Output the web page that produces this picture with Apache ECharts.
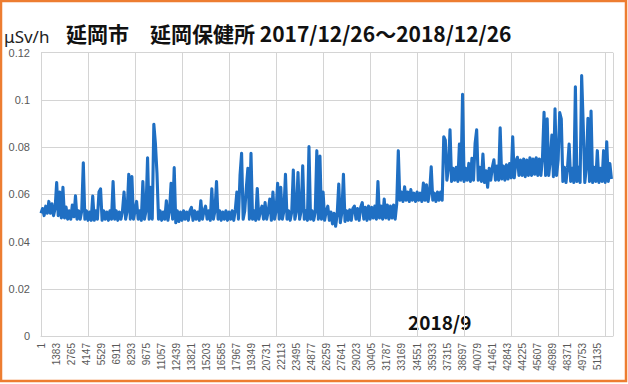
<!DOCTYPE html>
<html><head><meta charset="utf-8">
<script src="https://cdn.jsdelivr.net/npm/echarts@6/dist/echarts.min.js"></script>
<style>html,body{margin:0;padding:0;background:#fff}#c{width:628px;height:384px}</style>
</head><body><div id="c"></div>
<script>
// Chart texts
const unitLabel = 'μSv/h';
const titleText = '延岡市　延岡保健所 2017/12/26～2018/12/26';
const noteText = '2018/9';
// Axis settings (x = measurement number, 10-minute samples, 144 per day)
const samplesPerDay = 144;
const totalSamples = 52560;
const xLabelStep = 1382;
const xGridStep = 4320;
const yTicks = [0, 0.02, 0.04, 0.06, 0.08, 0.1, 0.12];
// Dose rate, one reading per day (μSv/h)
const doseRate = [
0.052,0.054,0.051,0.055,0.052,0.057,0.052,0.056,0.051,0.054,
0.065,0.051,0.061,0.050,0.063,0.050,0.0546,0.0495,0.053,0.0495,
0.0555,0.0505,0.0594,0.0495,0.053,0.0495,0.053,0.0734,0.0495,0.053,
0.049,0.0525,0.049,0.0593,0.049,0.053,0.0495,0.061,0.0623,0.049,
0.053,0.0495,0.0525,0.049,0.053,0.0495,0.0654,0.0495,0.053,0.049,
0.0525,0.0495,0.053,0.061,0.0495,0.053,0.0685,0.0495,0.0675,0.0495,
0.053,0.057,0.0495,0.053,0.049,0.0654,0.0495,0.053,0.0755,0.0495,
0.063,0.0495,0.0897,0.0816,0.069,0.0495,0.053,0.049,0.0525,0.0495,
0.0573,0.049,0.053,0.0647,0.0495,0.0713,0.048,0.053,0.0485,0.0525,
0.049,0.053,0.0495,0.0525,0.049,0.053,0.0545,0.049,0.053,0.0495,
0.0525,0.049,0.0573,0.0495,0.053,0.055,0.0495,0.053,0.049,0.0623,
0.0495,0.053,0.0654,0.0495,0.053,0.049,0.0525,0.0495,0.053,0.049,
0.0525,0.0495,0.053,0.049,0.0535,0.061,0.0495,0.068,0.0774,0.0495,
0.053,0.0625,0.071,0.0495,0.0774,0.0495,0.053,0.049,0.0625,0.0495,
0.053,0.055,0.0495,0.0565,0.0495,0.053,0.058,0.049,0.061,0.0495,
0.053,0.0647,0.0495,0.063,0.0495,0.053,0.0685,0.0495,0.053,0.049,
0.0525,0.0703,0.0495,0.053,0.0692,0.0495,0.053,0.0721,0.0495,0.053,
0.049,0.0802,0.0495,0.053,0.049,0.0525,0.0785,0.0495,0.0762,0.0495,
0.061,0.049,0.053,0.055,0.049,0.0525,0.0475,0.052,0.0465,0.0515,
0.0644,0.048,0.0525,0.0685,0.0485,0.053,0.049,0.0535,0.049,0.054,
0.055,0.0495,0.054,0.049,0.0545,0.0565,0.0495,0.0545,0.049,0.055,
0.0495,0.0545,0.050,0.055,0.0495,0.0654,0.050,0.055,0.0495,0.058,
0.050,0.0555,0.0495,0.055,0.050,0.0555,0.0495,0.056,0.0785,0.0575,
0.061,0.057,0.0632,0.0575,0.061,0.057,0.062,0.0575,0.0605,0.057,
0.061,0.0575,0.0605,0.057,0.0648,0.0575,0.064,0.057,0.061,0.0717,
0.0575,0.0605,0.057,0.061,0.0575,0.061,0.0575,0.0844,0.083,0.066,
0.071,0.0873,0.0655,0.071,0.066,0.0715,0.0655,0.0813,0.066,0.1024,
0.0655,0.071,0.066,0.0731,0.0655,0.0753,0.066,0.0816,0.0873,0.066,
0.0715,0.0655,0.0771,0.065,0.070,0.063,0.071,0.066,0.0715,0.0746,
0.066,0.072,0.066,0.0882,0.0665,0.072,0.066,0.0725,0.0665,0.073,
0.067,0.0844,0.067,0.074,0.0757,0.068,0.0745,0.068,0.075,0.0675,
0.0745,0.068,0.0755,0.068,0.075,0.0685,0.0755,0.068,0.075,0.068,
0.0755,0.0948,0.068,0.092,0.068,0.0745,0.0851,0.0675,0.0962,0.068,
0.0746,0.0946,0.092,0.0655,0.0715,0.065,0.0715,0.0813,0.0655,0.071,
0.065,0.1056,0.0655,0.0715,0.065,0.1103,0.0894,0.065,0.0715,0.0922,
0.0655,0.0953,0.065,0.0715,0.0655,0.0785,0.065,0.071,0.0655,0.0785,
0.065,0.0823,0.0655,0.073,0.0665
];

const seriesData = doseRate.map((v, d) => [d * samplesPerDay, v]);
const chart = echarts.init(document.getElementById('c'), null, {renderer: 'svg'});
const gridColor = '#d4d4d4';
const labelColor = '#595959';
chart.setOption({
  animation: false,
  grid: {left: 41, right: 15, top: 52.7, bottom: 48},
  xAxis: [{
    type: 'value', min: 0, max: totalSamples, interval: xLabelStep,
    axisLine: {show: true, lineStyle: {color: gridColor, width: 1}},
    axisTick: {show: false},
    splitLine: {show: false},
    axisLabel: {
      rotate: 90, margin: 7, fontSize: 10, color: labelColor, fontFamily: 'Liberation Sans',
      showMaxLabel: false,
      formatter: v => (v > totalSamples - xLabelStep ? '' : String(v + 1))
    }
  }, {
    type: 'value', min: 0, max: totalSamples, interval: xGridStep, position: 'bottom',
    axisLine: {show: false}, axisTick: {show: false}, axisLabel: {show: false},
    splitLine: {show: true, lineStyle: {color: gridColor, width: 1}}
  }],
  yAxis: {
    type: 'value', min: yTicks[0], max: yTicks[yTicks.length - 1], interval: yTicks[1] - yTicks[0],
    axisLine: {show: true, lineStyle: {color: gridColor, width: 1}},
    axisTick: {show: false},
    splitLine: {show: true, lineStyle: {color: gridColor, width: 1}},
    axisLabel: {margin: 11, fontSize: 11, color: labelColor, fontFamily: 'Liberation Sans',
      formatter: v => String(+v.toFixed(2))}
  },
  series: [{
    type: 'line', xAxisIndex: 0, data: seriesData, showSymbol: false,
    lineStyle: {color: '#1f6fc3', width: 3.1, join: 'round'}, z: 3
  }],
  graphic: [
    {type: 'rect', shape: {x: 1, y: 1, width: 625, height: 380}, silent: true,
      style: {fill: 'none', stroke: '#ED7D31', lineWidth: 2.5}},
    {type: 'text', x: 4, y: 36, style: {text: unitLabel, font: 'normal 17px "Noto Sans"', fill: '#222', verticalAlign: 'middle'}},
    {type: 'text', x: 66, y: 33, style: {text: titleText, font: 'bold 21px "Noto Sans CJK JP"', fill: '#111', verticalAlign: 'middle'}},
    {type: 'text', x: 408, y: 321, style: {text: noteText, font: 'bold 19px "Noto Sans CJK JP"', fill: '#111', verticalAlign: 'middle'}}
  ]
});
</script></body></html>
